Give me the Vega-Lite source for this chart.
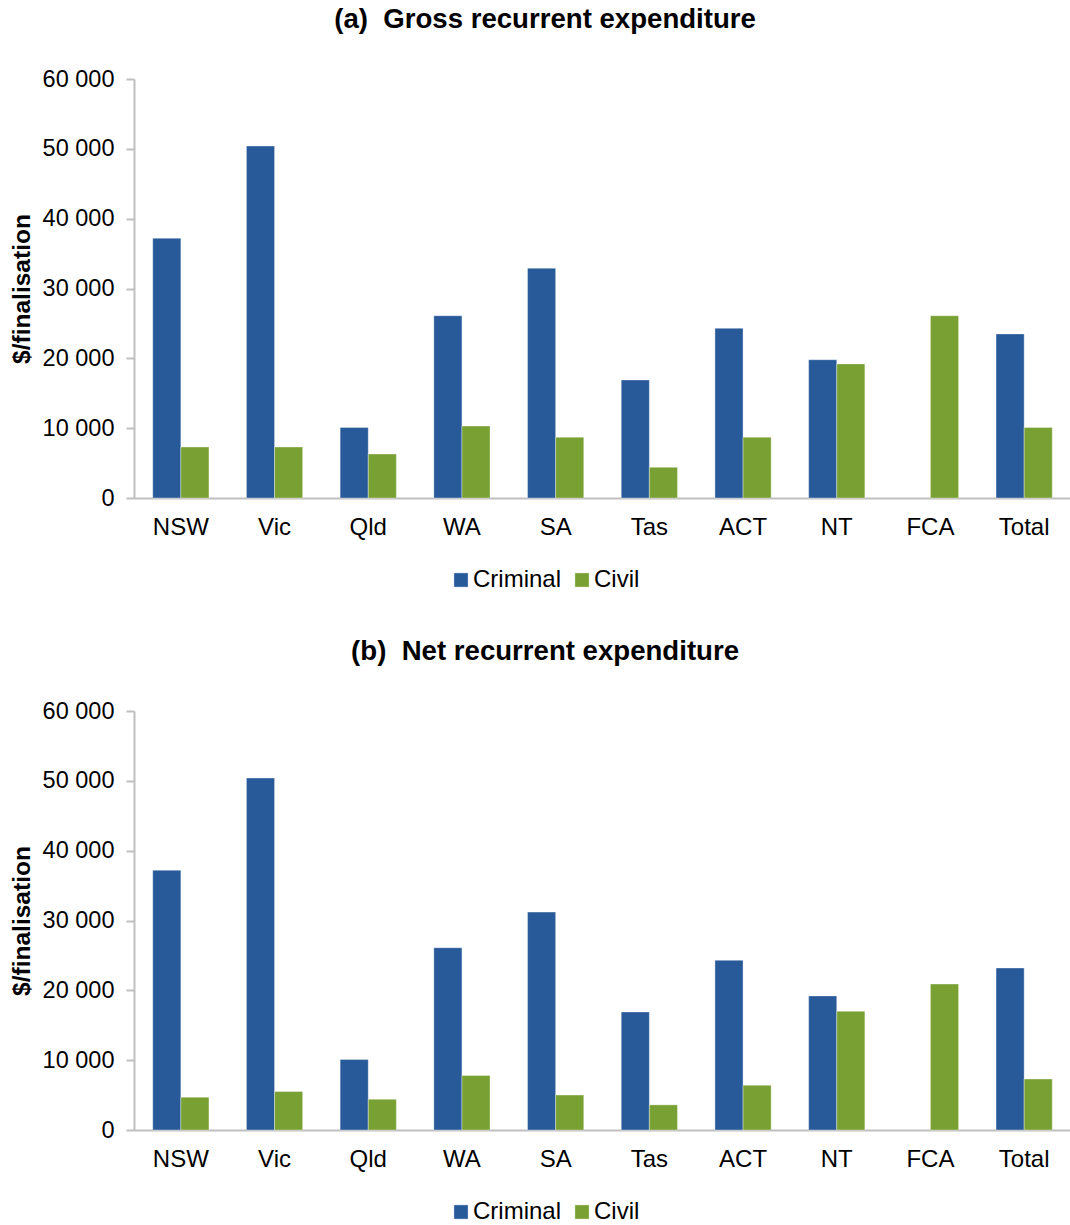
{
  "$schema": "https://vega.github.io/schema/vega-lite/v6.json",
  "background": "white",
  "padding": {"left": 9, "top": 6, "right": 0, "bottom": 0},
  "autosize": {"type": "pad"},
  "datasets": {
    "gross": [
      {"jurisdiction": "NSW", "type": "Criminal", "value": 37200},
      {"jurisdiction": "NSW", "type": "Civil", "value": 7300},
      {"jurisdiction": "Vic", "type": "Criminal", "value": 50400},
      {"jurisdiction": "Vic", "type": "Civil", "value": 7300},
      {"jurisdiction": "Qld", "type": "Criminal", "value": 10100},
      {"jurisdiction": "Qld", "type": "Civil", "value": 6300},
      {"jurisdiction": "WA", "type": "Criminal", "value": 26100},
      {"jurisdiction": "WA", "type": "Civil", "value": 10300},
      {"jurisdiction": "SA", "type": "Criminal", "value": 32900},
      {"jurisdiction": "SA", "type": "Civil", "value": 8700},
      {"jurisdiction": "Tas", "type": "Criminal", "value": 16900},
      {"jurisdiction": "Tas", "type": "Civil", "value": 4400},
      {"jurisdiction": "ACT", "type": "Criminal", "value": 24300},
      {"jurisdiction": "ACT", "type": "Civil", "value": 8700},
      {"jurisdiction": "NT", "type": "Criminal", "value": 19800},
      {"jurisdiction": "NT", "type": "Civil", "value": 19200},
      {"jurisdiction": "FCA", "type": "Civil", "value": 26100},
      {"jurisdiction": "Total", "type": "Criminal", "value": 23500},
      {"jurisdiction": "Total", "type": "Civil", "value": 10100}
    ],
    "net": [
      {"jurisdiction": "NSW", "type": "Criminal", "value": 37200},
      {"jurisdiction": "NSW", "type": "Civil", "value": 4700},
      {"jurisdiction": "Vic", "type": "Criminal", "value": 50400},
      {"jurisdiction": "Vic", "type": "Civil", "value": 5500},
      {"jurisdiction": "Qld", "type": "Criminal", "value": 10100},
      {"jurisdiction": "Qld", "type": "Civil", "value": 4400},
      {"jurisdiction": "WA", "type": "Criminal", "value": 26100},
      {"jurisdiction": "WA", "type": "Civil", "value": 7800},
      {"jurisdiction": "SA", "type": "Criminal", "value": 31200},
      {"jurisdiction": "SA", "type": "Civil", "value": 5000},
      {"jurisdiction": "Tas", "type": "Criminal", "value": 16900},
      {"jurisdiction": "Tas", "type": "Civil", "value": 3600},
      {"jurisdiction": "ACT", "type": "Criminal", "value": 24300},
      {"jurisdiction": "ACT", "type": "Civil", "value": 6400},
      {"jurisdiction": "NT", "type": "Criminal", "value": 19200},
      {"jurisdiction": "NT", "type": "Civil", "value": 17000},
      {"jurisdiction": "FCA", "type": "Civil", "value": 20900},
      {"jurisdiction": "Total", "type": "Criminal", "value": 23200},
      {"jurisdiction": "Total", "type": "Civil", "value": 7300}
    ]
  },
  "vconcat": [
    {
      "title": {"text": "(a)\u00a0 Gross recurrent expenditure"},
      "data": {"name": "gross"},
      "width": 937,
      "height": 419,
      "mark": {"type": "bar"},
      "encoding": {
        "x": {"field": "jurisdiction", "type": "nominal", "sort": ["NSW", "Vic", "Qld", "WA", "SA", "Tas", "ACT", "NT", "FCA", "Total"], "scale": {"paddingInner": 0.4, "paddingOuter": 0.2}, "axis": {"title": null}},
        "xOffset": {"field": "type", "type": "nominal", "scale": {"domain": ["Criminal", "Civil"]}},
        "y": {"field": "value", "type": "quantitative", "scale": {"domain": [0, 60000]}, "axis": {"title": "$/finalisation", "values": [0, 10000, 20000, 30000, 40000, 50000, 60000]}},
        "color": {"field": "type", "type": "nominal", "scale": {"domain": ["Criminal", "Civil"], "range": ["#285a9a", "#78a033"]}, "legend": {"orient": "none", "legendX": 315, "legendY": 489}}
      }
    },
    {
      "title": {"text": "(b)\u00a0 Net recurrent expenditure"},
      "data": {"name": "net"},
      "width": 937,
      "height": 419,
      "mark": {"type": "bar"},
      "encoding": {
        "x": {"field": "jurisdiction", "type": "nominal", "sort": ["NSW", "Vic", "Qld", "WA", "SA", "Tas", "ACT", "NT", "FCA", "Total"], "scale": {"paddingInner": 0.4, "paddingOuter": 0.2}, "axis": {"title": null}},
        "xOffset": {"field": "type", "type": "nominal", "scale": {"domain": ["Criminal", "Civil"]}},
        "y": {"field": "value", "type": "quantitative", "scale": {"domain": [0, 60000]}, "axis": {"title": "$/finalisation", "values": [0, 10000, 20000, 30000, 40000, 50000, 60000]}},
        "color": {"field": "type", "type": "nominal", "scale": {"domain": ["Criminal", "Civil"], "range": ["#285a9a", "#78a033"]}, "legend": {"orient": "none", "legendX": 315, "legendY": 489}}
      }
    }
  ],
  "spacing": 46,
  "resolve": {"legend": {"color": "independent"}},
  "config": {
    "font": "Liberation Sans",
    "view": {"stroke": null},
    "title": {"fontSize": 27.6, "fontWeight": "bold", "color": "#000000", "anchor": "middle", "frame": "bounds", "offset": 33, "dx": 5},
    "bar": {"stroke": "#ffffff", "strokeOpacity": 0.35, "strokeWidth": 1},
    "axisX": {"labelAngle": 0, "ticks": false, "domainColor": "#bfbfbf", "domainWidth": 2, "labelFontSize": 24, "labelColor": "#000000", "labelPadding": 17},
    "axisY": {"grid": false, "labelExpr": "replace(format(datum.value, ','), /,/g, ' ')", "domainColor": "#bfbfbf", "domainWidth": 2, "tickColor": "#bfbfbf", "tickWidth": 2, "tickSize": 8, "labelFontSize": 23.5, "labelColor": "#000000", "labelPadding": 12, "titleFontSize": 24.5, "titleFontWeight": "bold", "titleColor": "#000000", "titlePadding": 8},
    "legend": {"title": null, "direction": "horizontal", "symbolType": "square", "symbolSize": 200, "symbolStrokeWidth": 0, "symbolOpacity": 1, "labelFontSize": 24, "labelColor": "#000000", "labelOffset": 0, "columnPadding": 8}
  }
}
